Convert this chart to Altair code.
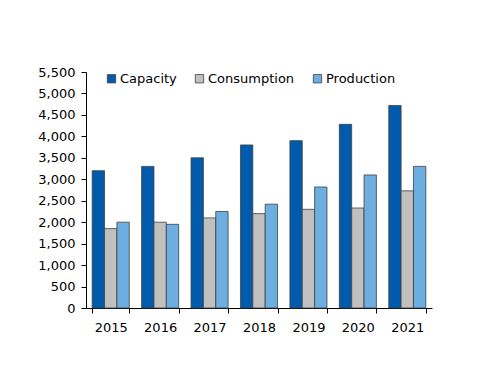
import altair as alt
import pandas as pd

years = ["2015", "2016", "2017", "2018", "2019", "2020", "2021"]
capacity = [3200, 3300, 3500, 3800, 3900, 4280, 4720]
consumption = [1850, 2000, 2100, 2200, 2300, 2330, 2730]
production = [2000, 1950, 2250, 2420, 2820, 3100, 3300]
series = ["Capacity", "Consumption", "Production"]
colors = ["#005BAC", "#C0C0C0", "#6CAEE0"]

rows = []
for i, y in enumerate(years):
    for s, vals in zip(series, [capacity, consumption, production]):
        rows.append({"year": y, "series": s, "value": vals[i]})
df = pd.DataFrame(rows)

font = "DejaVu Sans"

chart = alt.Chart(df).mark_bar(stroke="#404040", strokeWidth=0.8).encode(
    x=alt.X("year:N", title=None, sort=years,
            scale=alt.Scale(paddingInner=0.25, paddingOuter=0.125),
            axis=alt.Axis(labelAngle=0, tickBand="extent", domainColor="#000",
                          tickColor="#000", tickSize=5, labelFontSize=13,
                          labelColor="#000", labelPadding=8, labelFont=font)),
    xOffset=alt.XOffset("series:N", sort=series, scale=alt.Scale(paddingInner=0, paddingOuter=0)),
    y=alt.Y("value:Q", title=None,
            scale=alt.Scale(domain=[0, 5500], nice=False),
            axis=alt.Axis(values=list(range(0, 5501, 500)), format=",d", grid=False,
                          domainColor="#000", tickColor="#000", tickSize=5,
                          labelFontSize=13, labelColor="#000", labelPadding=6,
                          labelFont=font)),
    color=alt.Color("series:N", sort=series,
                    scale=alt.Scale(domain=series, range=colors),
                    legend=alt.Legend(title=None, orient="none", direction="horizontal",
                                      legendX=19, legendY=0, symbolType="square",
                                      symbolSize=70, symbolStrokeColor="#404040",
                                      symbolStrokeWidth=0.8, labelFontSize=13,
                                      labelFont=font, labelColor="#000",
                                      columnPadding=16, labelOffset=2)),
).properties(
    width=346, height=236,
    padding={"left": 78, "top": 64, "right": 60, "bottom": 70},
    autosize=alt.AutoSizeParams(type="none"),
).configure_view(stroke=None)

chart.save("out.html", embed_options={"renderer": "svg", "actions": False})
